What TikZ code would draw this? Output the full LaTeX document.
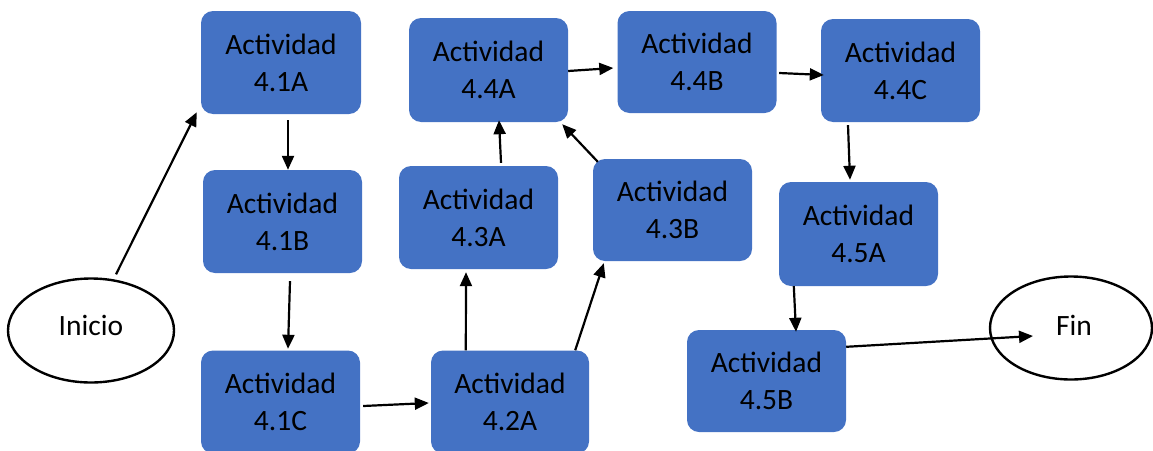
\documentclass[tikz,border=0pt]{standalone}
\usepackage{fontspec}
\setmainfont{Carlito}
\usetikzlibrary{calc,shapes.geometric,arrows.meta}
\definecolor{actblue}{HTML}{4472C4}
\tikzset{
  actbox/.style={draw=none, fill=actblue, rounded corners=12pt,
    minimum width=159pt, minimum height=103pt, inner sep=0pt,
    align=center, font=\fontsize{29.5}{37}\selectfont},
  endpoint/.style={draw=black, line width=2.4pt, ellipse, fill=white,
    inner sep=0pt},
  endtext/.style={font=\fontsize{29.5}{37}\selectfont},
  arr/.style={line width=2.2pt, -{Triangle[length=14pt,width=12pt]}}
}
\begin{document}
\begin{tikzpicture}[x=1pt,y=-1pt]
\useasboundingbox (0,0) rectangle (1153,450);
% process steps
\node[actbox, minimum width=160pt] (a41A) at (281,62.5) {Actividad\\4.1A};
\node[actbox] (a41B) at (282.5,221.5) {Actividad\\4.1B};
\node[actbox] (a41C) at (280.5,402) {Actividad\\4.1C};
\node[actbox, minimum width=158pt] (a42A) at (510,402) {Actividad\\4.2A};
\node[actbox] (a43A) at (478.5,217.5) {Actividad\\4.3A};
\node[actbox, minimum height=102pt] (a43B) at (672.5,210) {Actividad\\4.3B};
\node[actbox, minimum height=104pt] (a44A) at (488.5,70) {Actividad\\4.4A};
\node[actbox, minimum height=102pt] (a44B) at (697,62) {Actividad\\4.4B};
\node[actbox] (a44C) at (900.5,70.5) {Actividad\\4.4C};
\node[actbox, minimum height=104pt] (a45A) at (858.5,234) {Actividad\\4.5A};
\node[actbox, minimum height=102pt] (a45B) at (766.5,381) {Actividad\\4.5B};
% start and end
\node[endpoint, minimum width=166pt, minimum height=104pt] (inicio) at (91,330.5) {};
\node[endpoint, minimum width=162pt, minimum height=103pt] (fin) at (1071,328) {};
% connectors
\draw[arr] ($(inicio.north)+(25,-3)$) -- ($(a41A.south west)+(-4,-2)$);
\draw[arr] ($(a41A.south)+(7,6)$) -- ($(a41B.north)+(5.5,0)$);
\draw[arr] ($(a41B.south)+(7.5,8)$) -- ($(a41C.north)+(7.5,-1.5)$);
\draw[arr] ($(a41C.east)+(3,4)$) -- ($(a42A.west)+(-2,1)$);
\draw[arr] ($(a42A.north west)+(35,0)$) -- ($(a43A.south)+(-12.5,3)$);
\draw[arr] ($(a42A.north east)+(-14,0)$) -- ($(a43B.south west)+(11,2)$);
\draw[arr] ($(a43A.north)+(22.5,-3)$) -- ($(a44A.south)+(10.5,-2)$);
\draw[arr] ($(a43B.north west)+(5,3)$) -- ($(a44A.south east)+(-6,2)$);
\draw[arr] ($(a44A.east)+(0,1)$) -- ($(a44B.west)+(-4,6)$);
\draw[arr] ($(a44B.east)+(2.5,11)$) -- ($(a44C.west)+(3,4.5)$);
\draw[arr] ($(a44C.south)+(-52.5,3)$) -- ($(a45A.north)+(-8.5,-2)$);
\draw[arr] ($(a45A.south west)+(15,0)$) -- ($(a45B.north)+(29.5,2)$);
\draw[arr] ($(a45B.north east)+(0,17)$) -- ($(fin.center)+(-38,8)$);
\node[endtext] (iniciotext) at ($(inicio.center)+(0,-5)$) {Inicio};
\node[endtext] (fintext) at ($(fin.center)+(3,-3)$) {Fin};
\end{tikzpicture}
\end{document}
